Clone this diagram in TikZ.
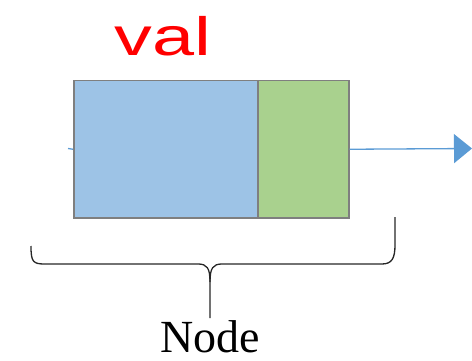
\documentclass[tikz,border=0pt]{standalone}
\usepackage{fontspec}
\setmainfont{Liberation Serif}
\newfontfamily\scribblefont{Liberation Sans}
\usetikzlibrary{arrows.meta}
\definecolor{datablue}{HTML}{9DC3E6}
\definecolor{nextgreen}{HTML}{A9D18E}
\definecolor{cellgray}{HTML}{7F7F7F}
\definecolor{linkblue}{HTML}{5B9BD5}
\tikzset{
  cell/.style = {draw=cellgray, line width=1.5pt, inner sep=0pt,
    minimum height=137pt, anchor=north west},
  data_n/.style = {cell, fill=datablue, minimum width=184pt},% value part
  next_n/.style = {cell, fill=nextgreen, minimum width=91pt},% pointer part
  link/.style = {draw=linkblue, line width=1.3pt},
  brace_l/.style = {draw=black!85, line width=1.3pt},
  caption_n/.style = {font=\fontsize{46}{48}\selectfont, inner sep=0pt,
    text depth=0pt, anchor=base},
  note_n/.style = {font=\scribblefont\fontsize{54}{56}\selectfont, text=red,
    inner sep=0pt, text depth=0pt, anchor=base, xscale=1.4},
}

\begin{document}
\begin{tikzpicture}[x=1pt,y=-1pt]
\useasboundingbox (0,0) rectangle (472,361);

\node [data_n] (data) at (73,80) {};
\node [next_n] (next) at (257,80) {};
\node [note_n] (val) at (163,56) {val};

\coordinate (tail) at (68,148.5);
\coordinate (head) at (472,148.5);
\draw [link] (tail) -- (data.west);
\draw [link,-{Triangle[length=18pt,width=29pt]}] (next.east) -- (head);

% brace under the node
\coordinate (bl) at (31,246);
\coordinate (br) at (395,217);
\coordinate (tip) at (210,318);
\draw [brace_l] (bl) .. controls (31,262) and (33,264) .. (45,264) -- (198,264)
  .. controls (207,264) and (210,268) .. (210,282) -- (tip);
\draw [brace_l] (210,282) .. controls (210,268) and (213,264) .. (222,264) -- (382,264)
  .. controls (392,264) and (395,258) .. (395,245) -- (br);
\node [caption_n] (label) at (210,352) {Node};
\end{tikzpicture}
\end{document}
